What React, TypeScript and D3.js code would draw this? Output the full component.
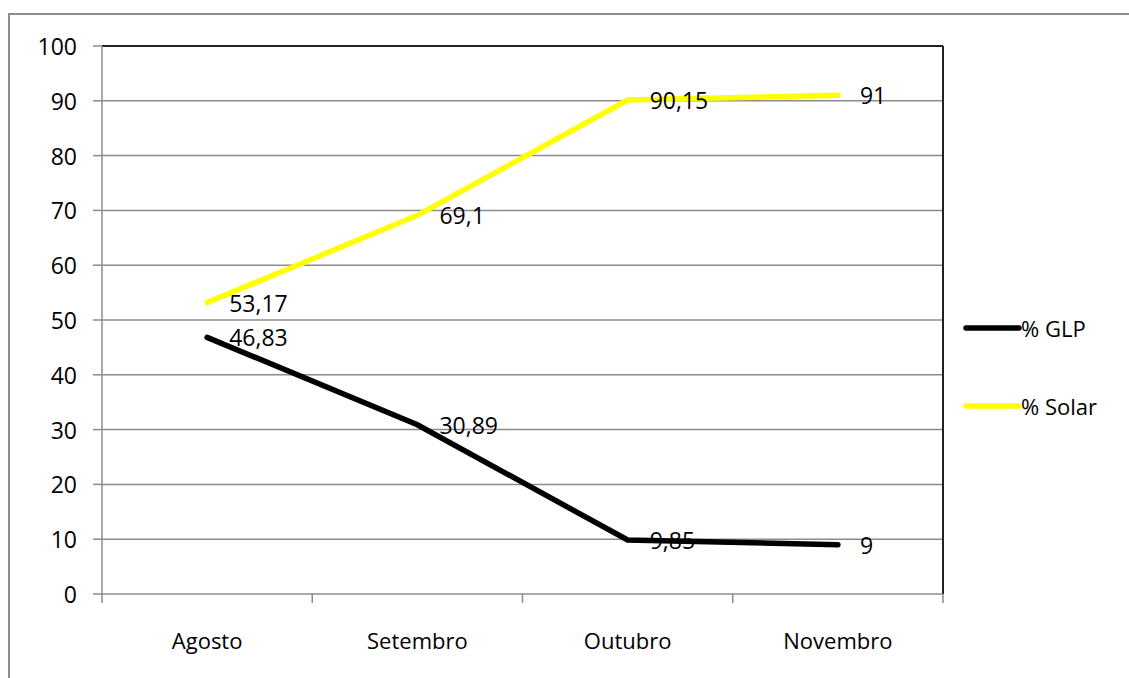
import React from "react";
import * as d3 from "d3";

const categories = ["Agosto", "Setembro", "Outubro", "Novembro"];
const glpValues = [46.83, 30.89, 9.85, 9];
const solarValues = [53.17, 69.1, 90.15, 91];
const glpLabels = ["46,83", "30,89", "9,85", "9"];
const solarLabels = ["53,17", "69,1", "90,15", "91"];
const yTicks = [0, 10, 20, 30, 40, 50, 60, 70, 80, 90, 100];
const seriesNames = ["% GLP", "% Solar"];

const W = 1129;
const H = 678;
const left = 102, right = 943, top = 46, bottom = 594;
const FONT = "'Open Sans', sans-serif";
const FS = 23;

export default function App() {
  const x = d3.scaleBand<string>().domain(categories).range([left, right]);
  const y = d3.scaleLinear().domain([0, 100]).range([bottom, top]);
  const cx = (c: string) => (x(c) as number) + x.bandwidth() / 2;
  const line = d3
    .line<number>()
    .x((_, i) => cx(categories[i]))
    .y((d) => y(d));

  const series = [
    { name: seriesNames[0], values: glpValues, labels: glpLabels, color: "#000000" },
    { name: seriesNames[1], values: solarValues, labels: solarLabels, color: "#FFFF00" },
  ];
  const boundaries = [...categories.map((c) => x(c) as number), right];

  return (
    <svg width={W} height={H} style={{ position: "absolute", left: 0, top: 0 }} fontFamily={FONT}>
      <rect x={0} y={0} width={W} height={H} fill="#fff" />
      <rect x={9} y={14} width={W + 10} height={H + 10} fill="none" stroke="#8c8c8c" strokeWidth={2} />
      {yTicks.map((t) => (
        <g key={t}>
          {t > 0 && t < 100 && (
            <line x1={left} x2={right} y1={y(t)} y2={y(t)} stroke="#8c8c8c" strokeWidth={1.5} />
          )}
          <line x1={93} x2={left} y1={y(t)} y2={y(t)} stroke="#8c8c8c" strokeWidth={1.5} />
          <text x={77} y={y(t)} textAnchor="end" dominantBaseline="central" fontSize={FS} fill="#000">
            {t}
          </text>
        </g>
      ))}
      <line x1={left} x2={right} y1={top} y2={top} stroke="#222" strokeWidth={2} />
      <line x1={right} x2={right} y1={top} y2={bottom} stroke="#222" strokeWidth={2} />
      <line x1={left} x2={left} y1={top} y2={bottom} stroke="#8c8c8c" strokeWidth={1.5} />
      <line x1={left} x2={right} y1={bottom} y2={bottom} stroke="#8c8c8c" strokeWidth={1.5} />
      {boundaries.map((b, i) => (
        <line key={i} x1={b} x2={b} y1={bottom} y2={bottom + 9} stroke="#8c8c8c" strokeWidth={1.5} />
      ))}
      {categories.map((c) => (
        <text key={c} x={cx(c)} y={640} textAnchor="middle" dominantBaseline="central" fontSize={FS - 1} fill="#000">
          {c}
        </text>
      ))}
      {series.map((s) => (
        <path
          key={s.name}
          d={line(s.values) || ""}
          fill="none"
          stroke={s.color}
          strokeWidth={5.5}
          strokeLinecap="round"
          strokeLinejoin="miter"
        />
      ))}
      {series.map((s) =>
        s.values.map((v, i) => (
          <text
            key={s.name + i}
            x={cx(categories[i]) + 22}
            y={y(v)}
            dominantBaseline="central"
            fontSize={FS}
            fill="#000"
          >
            {s.labels[i]}
          </text>
        ))
      )}
      {series.map((s, i) => (
        <g key={s.name} transform={`translate(0, ${328 + i * 78})`}>
          <line x1={966} x2={1019} y1={0} y2={0} stroke={s.color} strokeWidth={5.5} strokeLinecap="round" />
          <text x={1021} y={0} dominantBaseline="central" fontSize={FS - 1} fill="#000">
            {s.name}
          </text>
        </g>
      ))}
    </svg>
  );
}
